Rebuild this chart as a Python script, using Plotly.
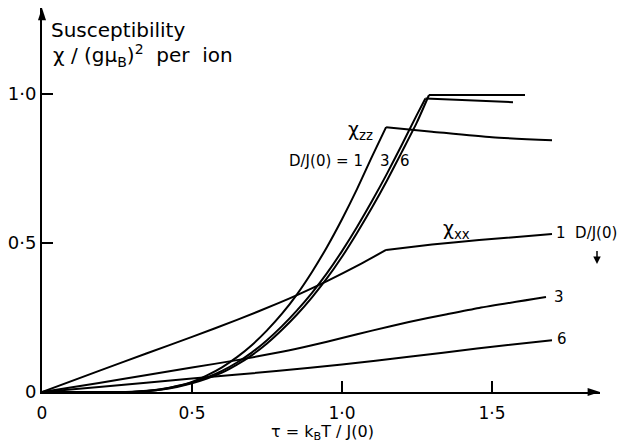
import plotly.graph_objects as go

# chi_zz curves (D/J(0) = 1, 3, 6); the listed kink value marks the sharp maximum
tau_zz1 = [0.0, 0.25, 0.30, 0.35, 0.40, 0.45, 0.50, 0.55, 0.60, 0.65, 0.70, 0.75, 0.80, 0.85, 0.90, 0.95, 1.00, 1.05, 1.10, 1.147, 1.30, 1.50, 1.70]
chi_zz1 = [0.0, 0.0, 0.001, 0.004, 0.010, 0.020, 0.034, 0.056, 0.083, 0.117, 0.158, 0.207, 0.263, 0.328, 0.403, 0.487, 0.580, 0.681, 0.790, 0.889, 0.874, 0.855, 0.845]

tau_zz3 = [0.0, 0.28, 0.32, 0.35, 0.40, 0.45, 0.50, 0.55, 0.60, 0.65, 0.70, 0.75, 0.80, 0.85, 0.90, 0.95, 1.00, 1.05, 1.10, 1.15, 1.20, 1.25, 1.278, 1.40, 1.57]
chi_zz3 = [0.0, 0.0, 0.001, 0.003, 0.009, 0.019, 0.032, 0.049, 0.071, 0.099, 0.133, 0.174, 0.221, 0.274, 0.333, 0.399, 0.473, 0.554, 0.641, 0.733, 0.831, 0.931, 0.985, 0.980, 0.973]

tau_zz6 = [0.0, 0.30, 0.35, 0.40, 0.45, 0.50, 0.55, 0.60, 0.65, 0.70, 0.75, 0.80, 0.85, 0.90, 0.95, 1.00, 1.05, 1.10, 1.15, 1.20, 1.25, 1.29, 1.45, 1.61]
chi_zz6 = [0.0, 0.0, 0.003, 0.008, 0.017, 0.029, 0.045, 0.065, 0.092, 0.124, 0.163, 0.209, 0.260, 0.318, 0.382, 0.454, 0.534, 0.619, 0.710, 0.807, 0.906, 0.997, 0.997, 0.997]

# chi_xx curves (D/J(0) = 1, 3, 6)
tau_xx1 = [0.0, 0.19, 0.35, 0.50, 0.65, 0.79, 0.85, 0.95, 1.05, 1.147, 1.30, 1.457, 1.70]
chi_xx1 = [0.0, 0.071, 0.130, 0.185, 0.242, 0.299, 0.325, 0.372, 0.423, 0.477, 0.495, 0.51, 0.53]

tau_xx3 = [0.0, 0.19, 0.35, 0.50, 0.65, 0.80, 0.90, 1.00, 1.10, 1.223, 1.35, 1.457, 1.68]
chi_xx3 = [0.0, 0.030, 0.057, 0.082, 0.107, 0.135, 0.157, 0.181, 0.206, 0.235, 0.261, 0.282, 0.319]

tau_xx6 = [0.0, 0.19, 0.50, 0.79, 1.00, 1.223, 1.45, 1.70]
chi_xx6 = [0.0, 0.017, 0.045, 0.071, 0.092, 0.118, 0.146, 0.174]

x_tickvals = [0, 0.5, 1.0, 1.5]
x_ticktext = ["0", "0·5", "1·0", "1·5"]
y_tickvals = [0, 0.5, 1.0]
y_ticktext = ["0", "0·5", "1·0"]

FONT = "DejaVu Sans"

fig = go.Figure()


def add_curve(t, c, kink=None):
    """Smooth part up to the kink (sharp corner kept), smooth part after it."""
    parts = [(t, c)] if kink is None else [(t[:t.index(kink) + 1], c[:t.index(kink) + 1]),
                                           (t[t.index(kink):], c[t.index(kink):])]
    for pt, pc in parts:
        fig.add_trace(go.Scatter(x=pt, y=pc, mode="lines",
                                 line=dict(color="black", width=2, shape="spline", smoothing=0.6),
                                 showlegend=False, hoverinfo="skip"))


add_curve(tau_zz1, chi_zz1, 1.147)
add_curve(tau_zz3, chi_zz3, 1.278)
add_curve(tau_zz6, chi_zz6, 1.29)
add_curve(tau_xx1, chi_xx1, 1.147)
add_curve(tau_xx3, chi_xx3)
add_curve(tau_xx6, chi_xx6)

XMAX = 1.86
YMAX = 1.289

# arrowheads at the ends of both axes
fig.add_trace(go.Scatter(x=[XMAX], y=[0], mode="markers", cliponaxis=False,
                         marker=dict(symbol="arrow", angle=90, size=13, color="black",
                                     line=dict(width=0)),
                         showlegend=False, hoverinfo="skip"))
fig.add_trace(go.Scatter(x=[0], y=[YMAX], mode="markers", cliponaxis=False,
                         marker=dict(symbol="arrow", angle=0, size=13, color="black",
                                     line=dict(width=0)),
                         showlegend=False, hoverinfo="skip"))

ann = []
# small down arrow under D/J(0)
ann.append(dict(x=1.85, y=0.43, ax=1.85, ay=0.478, xref="x", yref="y", axref="x", ayref="y",
                showarrow=True, arrowhead=2, arrowsize=1, arrowwidth=1.5, arrowcolor="black", text=""))


def txt(x, y, s, size, xanchor="center", yanchor="middle", ref="data"):
    ann.append(dict(x=x, y=y, xref="x" if ref == "data" else "paper",
                    yref="y" if ref == "data" else "paper", text=s, showarrow=False,
                    xanchor=xanchor, yanchor=yanchor,
                    font=dict(family=FONT, size=size, color="black")))


txt(0.022, 1.215, "Susceptibility", 20, xanchor="left")
txt(0.030, 1.130, "χ / (gμ<sub>B</sub>)<sup>2</sup>  per  ion", 20, xanchor="left")
txt(1.06, 0.879, "χ<sub>zz</sub>", 19)
txt(1.075, 0.775, "D/J(0) = 1", 15, xanchor="right")
txt(1.143, 0.775, "3", 15)
txt(1.21, 0.775, "6", 15)
txt(1.38, 0.544, "χ<sub>xx</sub>", 19)
txt(1.705, 0.534, "1  D/J(0)", 15, xanchor="left")
txt(1.70, 0.319, "3", 15, xanchor="left")
txt(1.71, 0.178, "6", 15, xanchor="left")
txt(0.502, -0.106, "τ = k<sub>B</sub>T / J(0)", 16, ref="paper")

fig.update_layout(
    width=620, height=440,
    margin=dict(l=34, r=28, t=0, b=56),
    paper_bgcolor="white", plot_bgcolor="white",
    font=dict(family=FONT, size=17, color="black"),
    annotations=ann,
    xaxis=dict(range=[0, XMAX], showline=True, linecolor="black", linewidth=2,
               ticks="inside", ticklen=11, tickwidth=1.5, tickcolor="black",
               tickvals=x_tickvals, ticktext=x_ticktext, showgrid=False, zeroline=False,
               tickfont=dict(family=FONT, size=17), ticklabelstandoff=5, fixedrange=True,
               automargin=False),
    yaxis=dict(range=[0, YMAX], showline=True, linecolor="black", linewidth=2,
               ticks="inside", ticklen=11, tickwidth=1.5, tickcolor="black",
               tickvals=y_tickvals, ticktext=y_ticktext, showgrid=False, zeroline=False,
               tickfont=dict(family=FONT, size=18), ticklabelstandoff=0, fixedrange=True,
               automargin=False),
)

fig.write_html("out.html")
